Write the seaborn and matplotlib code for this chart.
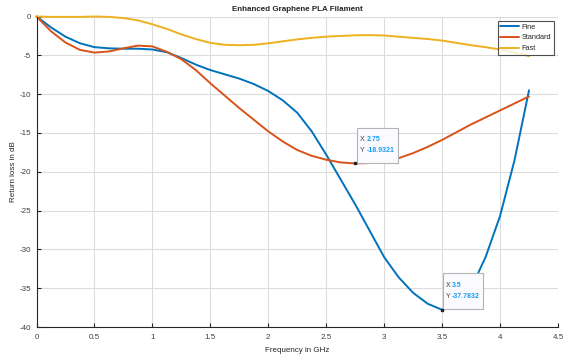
import numpy as np
import pandas as pd
import seaborn as sns
import matplotlib
matplotlib.use("Agg")
import matplotlib.pyplot as plt
from matplotlib.offsetbox import TextArea, HPacker, VPacker, AnnotationBbox, DrawingArea

freq = [0, 0.125, 0.25, 0.375, 0.5, 0.625, 0.75, 0.875, 1.0, 1.125, 1.25, 1.375,
        1.5, 1.625, 1.75, 1.875, 2.0, 2.125, 2.25, 2.375, 2.5, 2.625, 2.75, 2.875,
        3.0, 3.125, 3.25, 3.375, 3.5, 3.625, 3.75, 3.875, 4.0, 4.125, 4.25]

fine = [0, -1.4, -2.6, -3.45, -3.95, -4.1, -4.15, -4.15, -4.25, -4.6, -5.35, -6.2,
        -6.9, -7.45, -8.0, -8.7, -9.6, -10.8, -12.4, -14.8, -17.8, -21.0, -24.2, -27.6,
        -31.0, -33.6, -35.6, -37.0, -37.7832, -37.2, -35.0, -31.0, -25.7, -18.5, -9.5]

standard = [0, -1.9, -3.35, -4.3, -4.65, -4.5, -4.1, -3.75, -3.85, -4.55, -5.5, -6.9,
            -8.6, -10.2, -11.8, -13.3, -14.8, -16.1, -17.2, -17.95, -18.45, -18.8, -18.9321, -18.88,
            -18.7, -18.25, -17.6, -16.8, -15.9, -14.9, -13.9, -13.0, -12.1, -11.2, -10.3]

fast = [0, -0.05, -0.05, -0.05, 0.0, -0.05, -0.2, -0.5, -1.0, -1.6, -2.3, -2.9,
        -3.4, -3.65, -3.7, -3.65, -3.45, -3.2, -2.95, -2.75, -2.6, -2.5, -2.42, -2.4,
        -2.45, -2.6, -2.75, -2.9, -3.1, -3.4, -3.7, -3.95, -4.25, -4.65, -5.1]

series_names = ["Fine", "Standard", "Fast"]
colors = ["#0072BD", "#D95319", "#EDB120"]
xticks = [0, 0.5, 1, 1.5, 2, 2.5, 3, 3.5, 4, 4.5]
yticks = [0, -5, -10, -15, -20, -25, -30, -35, -40]
tip_x = [2.75, 3.5]
tip_y = [-18.9321, -37.7832]
tip_labels = ["2.75", "3.5"]
tip_values = ["-18.9321", "-37.7832"]

df = pd.DataFrame({
    "Frequency": freq * 3,
    "Return": fine + standard + fast,
    "Series": ["Fine"] * len(freq) + ["Standard"] * len(freq) + ["Fast"] * len(freq),
})

sns.set_style("white")
plt.rcParams["font.family"] = ["Liberation Sans", "DejaVu Sans"]

fig = plt.figure(figsize=(5.65, 3.55), dpi=100)
ax = fig.add_axes([36.5 / 565, 1 - 327 / 355, (558 - 36.5) / 565, (327 - 16.5) / 355])

sns.lineplot(data=df, x="Frequency", y="Return", hue="Series", hue_order=series_names,
             palette=colors, linewidth=1.4, ax=ax, sort=False)
for ln in ax.get_lines():
    ln.set_clip_on(False)

ax.set_xlim(0, 4.5)
ax.set_ylim(-40, 0)
ax.set_xticks(xticks)
ax.set_xticklabels([f"{t:g}" for t in xticks])
ax.set_yticks(yticks)
ax.set_yticklabels([f"{t:g}" for t in yticks])
ax.grid(True, color="#dcdcdc", linewidth=0.8)
ax.set_axisbelow(True)
for s in ["top", "right"]:
    ax.spines[s].set_visible(False)
for s in ["left", "bottom"]:
    ax.spines[s].set_color("#262626")
    ax.spines[s].set_linewidth(0.8)
ax.tick_params(axis="both", direction="in", length=3, width=0.8, colors="#262626",
               labelsize=5.8, labelcolor="#404040", left=True, bottom=True)
ax.tick_params(axis="x", pad=5)
ax.tick_params(axis="y", pad=4)

ax.set_title("Enhanced Graphene PLA Filament", fontsize=5.8, fontweight="bold", pad=4)
ax.set_xlabel("Frequency in GHz", fontsize=5.8, color="#262626", labelpad=4)
ax.set_ylabel("Return loss in dB", fontsize=5.8, color="#262626")
ax.yaxis.set_label_coords(-0.037, 0.5)

leg = ax.legend(loc="upper right", fontsize=5.3, frameon=True, fancybox=False,
                handlelength=2.6, handletextpad=0.3, borderpad=0.35, labelspacing=0.5,
                borderaxespad=0.6)
leg.get_frame().set_edgecolor("#262626")
leg.get_frame().set_linewidth(0.8)
for line in leg.get_lines():
    line.set_linewidth(1.4)
for txt in leg.get_texts():
    txt.set_color("#262626")

offsets = [(3.6, 2.5), (2.5, 2.9)]
for xv, yv, xl, yl, off in zip(tip_x, tip_y, tip_labels, tip_values, offsets):
    ax.plot([xv], [yv], marker="s", markersize=2, color="#222222", zorder=5, clip_on=False)
    row1 = HPacker(children=[TextArea("X ", textprops=dict(fontsize=5, color="#404040")),
                             TextArea(xl, textprops=dict(fontsize=5, color="#1a9bf0", fontweight="bold"))],
                   pad=0, sep=0)
    row2 = HPacker(children=[TextArea("Y ", textprops=dict(fontsize=5, color="#404040")),
                             TextArea(yl, textprops=dict(fontsize=5, color="#1a9bf0", fontweight="bold"))],
                   pad=0, sep=0)
    box = VPacker(children=[DrawingArea(1, 1.0), row1, row2, DrawingArea(1, 1.0)],
                  pad=0, sep=3.0, align="left")
    ab = AnnotationBbox(box, (xv, yv), xycoords="data", xybox=off, boxcoords="offset points",
                        box_alignment=(0, 0), pad=0.22, frameon=True,
                        bboxprops=dict(edgecolor="#b4b4b4", facecolor="#fafaff", linewidth=0.8))
    ax.add_artist(ab)

fig.savefig("out.png", dpi=100)
